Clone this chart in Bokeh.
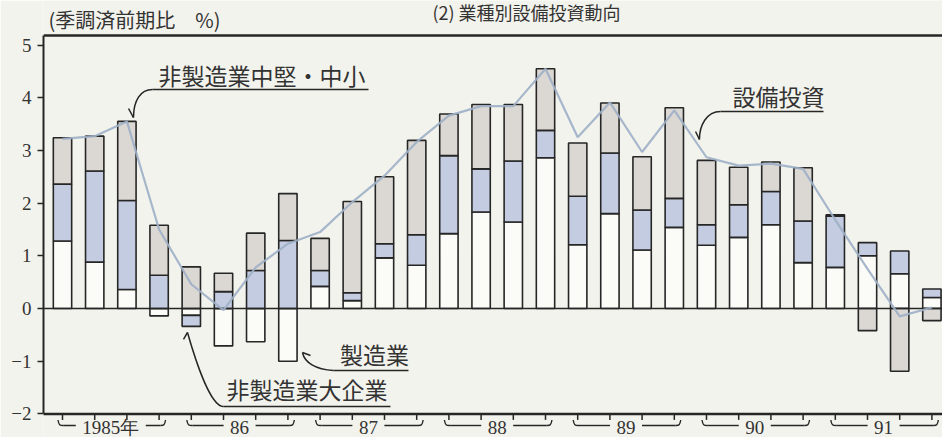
from bokeh.plotting import figure
from bokeh.models import Range1d, FixedTicker, Label
from bokeh.embed import file_html
from bokeh.resources import INLINE
from bokeh.core.properties import value

# ---------------- data ----------------
years = ["1985年", "86", "87", "88", "89", "90", "91"]
quarter_idx = list(range(28))
# 製造業 (white)
manufacturing = [1.28, 0.88, 0.36, -0.14, -0.13, -0.71, -0.63, -1.00,
                 0.42, 0.15, 0.96, 0.82, 1.42, 1.83, 1.64, 2.86,
                 1.21, 1.80, 1.11, 1.54, 1.20, 1.35, 1.59, 0.87,
                 0.78, 1.00, 0.66, 0.21]
# 非製造業大企業 (blue)
nonmfg_large = [1.08, 1.73, 1.69, 0.63, -0.21, 0.32, 0.72, 1.29,
                0.30, 0.15, 0.27, 0.58, 1.48, 0.82, 1.16, 0.52,
                0.92, 1.15, 0.76, 0.55, 0.39, 0.62, 0.63, 0.79,
                0.97, 0.25, 0.43, 0.16]
# 非製造業中堅・中小 (grey)
nonmfg_sme = [0.88, 0.66, 1.50, 0.95, 0.79, 0.35, 0.71, 0.89,
              0.61, 1.73, 1.27, 1.79, 0.79, 1.22, 1.07, 1.17,
              1.01, 0.95, 1.01, 1.72, 1.22, 0.71, 0.56, 1.01,
              0.03, -0.42, -1.19, -0.23]
# 設備投資 (line)
capex_total = [3.22, 3.27, 3.55, 1.50, 0.46, -0.03, 0.78, 1.23,
               1.45, 2.02, 2.52, 3.16, 3.66, 3.84, 3.84, 4.55,
               3.25, 3.91, 2.97, 3.76, 2.87, 2.71, 2.75, 2.65,
               1.68, 0.75, -0.15, 0.02]
y_ticks = [-2, -1, 0, 1, 2, 3, 4, 5]

# ---------------- styling ----------------
BG = "#f3f3ed"
INK = "#262626"
TXT = "#333333"
PXX = 32.2   # px per quarter
PXY = 52.7   # px per unit

W, H = 942, 437
x_lo = (43 - 62) / PXX
x_hi = (W - 62) / PXX
p = figure(width=W, height=H,
           x_range=Range1d(x_lo, x_hi), y_range=Range1d((308 - H) / PXY, 308 / PXY),
           output_backend="svg", toolbar_location=None,
           x_axis_location=None, y_axis_location="left",
           min_border_left=43, min_border_right=0,
           min_border_top=0, min_border_bottom=0)
p.background_fill_color = BG
p.border_fill_color = BG
p.outline_line_color = None
p.xgrid.visible = False
p.ygrid.visible = False

ax = p.yaxis[0]
ax.ticker = FixedTicker(ticks=y_ticks)
ax.bounds = (-2, 5.18)
ax.axis_line_color = INK
ax.axis_line_width = 2
ax.major_tick_line_color = INK
ax.major_tick_line_width = 1.5
ax.major_tick_out = 6
ax.major_tick_in = 0
ax.minor_tick_line_color = None
ax.major_label_standoff = 6
ax.major_label_text_font = "Liberation Serif"
ax.major_label_text_font_size = "19px"
ax.major_label_text_color = TXT

# ---------------- stacked bars ----------------
series = [(manufacturing, "#fbfbf7"),
          (nonmfg_large, "#c3cce0"),
          (nonmfg_sme, "#dbd8d3")]
pos = [0.0] * len(quarter_idx)
neg = [0.0] * len(quarter_idx)
for vals, color in series:
    bottoms, tops = [], []
    for i, v in enumerate(vals):
        if v >= 0:
            b, t = pos[i], pos[i] + v
            pos[i] = t
        else:
            b, t = neg[i] + v, neg[i]
            neg[i] = b
        bottoms.append(b)
        tops.append(t)
    p.vbar(x=quarter_idx, bottom=bottoms, top=tops, width=0.57,
           fill_color=color, line_color=INK, line_width=1.6)

# zero line, frame top and bottom axis lines
p.segment(x0=[x_lo], y0=[0], x1=[x_hi], y1=[0], line_color=INK, line_width=1.6)
p.segment(x0=[x_lo], y0=[5.18], x1=[x_hi], y1=[5.18], line_color=INK, line_width=2.5)
p.segment(x0=[x_lo - 0.2], y0=[-2], x1=[x_hi], y1=[-2], line_color=INK, line_width=2.5)

# line series
p.line(quarter_idx, capex_total, line_color="#9dafc6", line_width=2.2, line_alpha=0.9)

# x ticks (quarters)
tick_len = 6 / PXY
p.segment(x0=quarter_idx, y0=[-2] * 28, x1=quarter_idx, y1=[-2 - tick_len] * 28,
          line_color=INK, line_width=1.5)

# year labels with brackets
yl = (308 - 425) / PXY
ytop = (308 - 419.5) / PXY
for k, lab in enumerate(years):
    c = 4 * k + 1.5
    gap = (35 if len(lab) > 2 else 16) / PXX
    xl_top, xl_cor = 4 * k - 0.14, 4 * k + 0.04
    xr_cor, xr_top = 4 * k + 3.04, 4 * k + 3.2
    p.bezier(x0=[xl_top], y0=[ytop], x1=[xl_cor], y1=[yl],
             cx0=[xl_top + 0.03], cy0=[yl - 0.005], cx1=[xl_top + 0.06], cy1=[yl],
             line_color=INK, line_width=1.4)
    p.segment(x0=[xl_cor], y0=[yl], x1=[c - gap], y1=[yl], line_color=INK, line_width=1.4)
    p.segment(x0=[c + gap], y0=[yl], x1=[xr_cor], y1=[yl], line_color=INK, line_width=1.4)
    p.bezier(x0=[xr_cor], y0=[yl], x1=[xr_top], y1=[ytop],
             cx0=[xr_top - 0.06], cy0=[yl], cx1=[xr_top - 0.03], cy1=[yl - 0.005],
             line_color=INK, line_width=1.4)
p.text(x=[4 * k + 1.5 for k in range(len(years))],
       y=[(308 - 426.5) / PXY] * len(years), text=years,
       text_align="center", text_baseline="middle",
       text_font=value("Liberation Serif"), text_font_size="19px", text_color=TXT)

# ---------------- annotations ----------------
ann_font = value("Noto Sans CJK JP")

def callout(label, tx, ty, ux0, ux1, uy, cx0, cy0, cx1, cy1, tipx, tipy, hx, hy):
    p.text(x=[tx], y=[ty], text=[label], text_align="center", text_baseline="middle",
           text_font=ann_font, text_font_size="23px", text_color=TXT)
    p.segment(x0=[ux0], y0=[uy], x1=[ux1], y1=[uy], line_color=INK, line_width=1.5)
    p.bezier(x0=[ux0], y0=[uy], x1=[tipx], y1=[tipy], cx0=[cx0], cy0=[cy0],
             cx1=[cx1], cy1=[cy1], line_color=INK, line_width=1.5)
    p.segment(x0=[tipx], y0=[tipy], x1=[hx], y1=[hy], line_color=INK, line_width=1.5)

callout("非製造業中堅・中小", 6.196, 4.44, 2.795, 9.503, 4.156,
        2.42, 4.156, 2.205, 3.947, 2.205, 3.624, 2.05, 3.795)
callout("設備投資", 22.236, 4.023, 20.435, 23.634, 3.738,
        20.0, 3.738, 19.78, 3.473, 19.78, 3.207, 19.66, 3.359)
callout("製造業", 9.689, -0.854, 8.416, 10.745, -1.176,
        7.857, -1.157, 7.516, -1.025, 7.453, -0.835, 7.702, -0.892)
callout("非製造業大企業", 7.593, -1.537, 5.0, 10.186, -1.860,
        4.596, -1.860, 4.13, -0.987, 3.882, -0.455, 3.758, -0.588)

p.add_layout(Label(x=5, y=H - 18.5, x_units="screen", y_units="screen",
                   text="(季調済前期比　%)", text_baseline="middle",
                   text_font="Noto Sans CJK JP", text_font_size="20px", text_color=TXT))
p.add_layout(Label(x=485, y=H - 11, x_units="screen", y_units="screen",
                   text="(2)  業種別設備投資動向", text_align="center", text_baseline="middle",
                   text_font="Noto Sans CJK JP", text_font_size="18px", text_color=TXT))

open("out.html", "w").write(file_html(p, INLINE))
